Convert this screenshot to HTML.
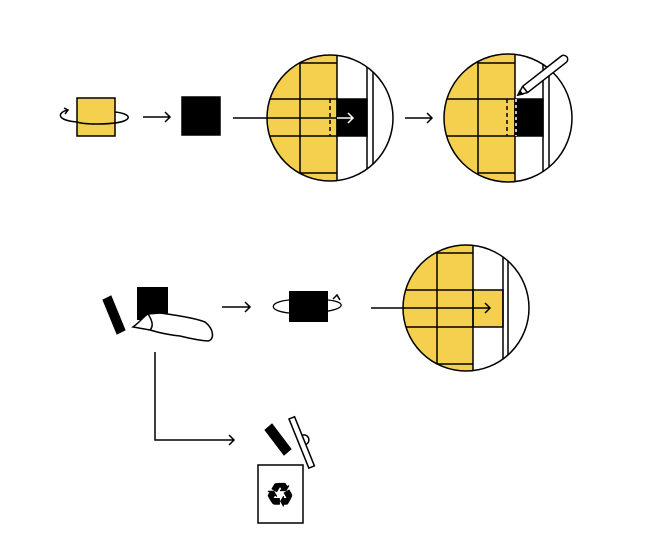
<!DOCTYPE html>
<html><head><style>body{margin:0;background:#fff}svg{display:block}</style></head><body>
<svg width="652" height="560" viewBox="0 0 652 560" xmlns="http://www.w3.org/2000/svg" fill="none" stroke="#000" stroke-width="1.5">
<defs>
<clipPath id="c1"><circle cx="330" cy="118" r="63"/></clipPath>
<clipPath id="c2"><circle cx="508" cy="118" r="64"/></clipPath>
<clipPath id="c3"><circle cx="466" cy="308" r="63"/></clipPath>
</defs>
<rect x="77" y="98" width="38" height="38" fill="#f5d04e"/>
<path d="M77 122 C55 120 58 112 68 110" /><path d="M115 112 C135 114 135 124 96 124 C88 124 80 123 77 122"/>
<path d="M64 108 l4 2 -3 4"/>
<path d="M143 117 H170 M165 112 l5 5 -5 5"/>
<rect x="182" y="97" width="38" height="38" fill="#000"/>
<g clip-path="url(#c1)">
<rect x="260" y="50" width="77" height="140" fill="#f5d04e" stroke="none"/>
<path d="M300 50V190 M337 50V190 M260 99H337 M260 136H337 M300 63H337 M300 173H337"/>
<rect x="337" y="99" width="30" height="37" fill="#000"/>
<path d="M330 99V136" stroke-dasharray="4 3"/>
<path d="M367 50V190 M373 50V190"/>
</g>
<circle cx="330" cy="118" r="63"/>
<path d="M233 118H337"/><path d="M337 118H353 M348 113l5 5-5 5" stroke="#fff"/>
<path d="M405 118H432 M427 113l5 5-5 5"/>
<g clip-path="url(#c2)">
<rect x="440" y="50" width="75" height="140" fill="#f5d04e" stroke="none"/>
<path d="M478 50V190 M515 50V190 M440 99H515 M440 136H515 M478 63H515 M478 173H515"/>
<rect x="515" y="99" width="28" height="37" fill="#000"/>
<path d="M507 99V136" stroke-dasharray="4 3"/>
<path d="M516 99V136" stroke="#fff" stroke-dasharray="3 3"/>
<path d="M543 50V190 M549 50V190"/>
</g>
<circle cx="508" cy="118" r="64"/>
<g transform="translate(518,95) rotate(-38)">
<path d="M0 0 L9 -4 H58 a4 4 0 0 1 0 8 H9 Z" fill="#fff"/><path d="M0 0 L4 -2 V2 Z" fill="#000"/><path d="M9 -4V4"/>
</g>
<path d="M103 300 L111 296 L125 330 L117 334 Z" fill="#000" stroke-width="1"/>
<rect x="137" y="287" width="31" height="33" fill="#000" stroke="none"/>
<path d="M133 327 C140 322 144 316 148 314 L160 313 C175 315 195 318 205 322 C215 330 214 340 208 341 C195 340 185 337 180 336 C170 335 160 333 150 330 Z" fill="#fff"/>
<path d="M148 314 C152 320 154 326 150 330"/>
<path d="M222 307H250 M245 302l5 5-5 5"/>
<rect x="289" y="291" width="39" height="31" fill="#000" stroke="none"/>
<path d="M289 313 C268 311 268 302 289 300 M328 300 C348 302 348 311 309 313 C300 313 294 313 289 313" stroke-width="1.3"/>
<path d="M333 299 l4 -4 3 5"/>
<g clip-path="url(#c3)">
<rect x="400" y="240" width="73" height="140" fill="#f5d04e" stroke="none"/>
<rect x="473" y="290" width="30" height="37" fill="#f5d04e"/>
<path d="M437 240V380 M473 240V380 M400 290H473 M400 327H473 M437 253H473 M437 364H473"/>
<path d="M503 240V380 M508 240V380"/>
</g>
<circle cx="466" cy="308" r="63"/>
<path d="M371 308H490 M485 303l5 5-5 5"/>
<path d="M155 352V440H234 M229 435l5 5-5 5"/>
<path d="M265 430 L272 424 L291 449 L284 455 Z" fill="#000" stroke-width="1"/>
<g transform="translate(289,419) rotate(-22)"><rect x="0" y="0" width="6" height="53" fill="#fff"/><path d="M6 20 a5 5 0 0 1 0 10"/></g>
<rect x="258" y="465" width="45" height="58" fill="#fff"/>
<text x="280" y="506" font-family="DejaVu Sans, sans-serif" font-size="32" font-weight="bold" fill="#000" stroke="#000" stroke-width="1.2" text-anchor="middle">♻</text>
</svg>
</body></html>
